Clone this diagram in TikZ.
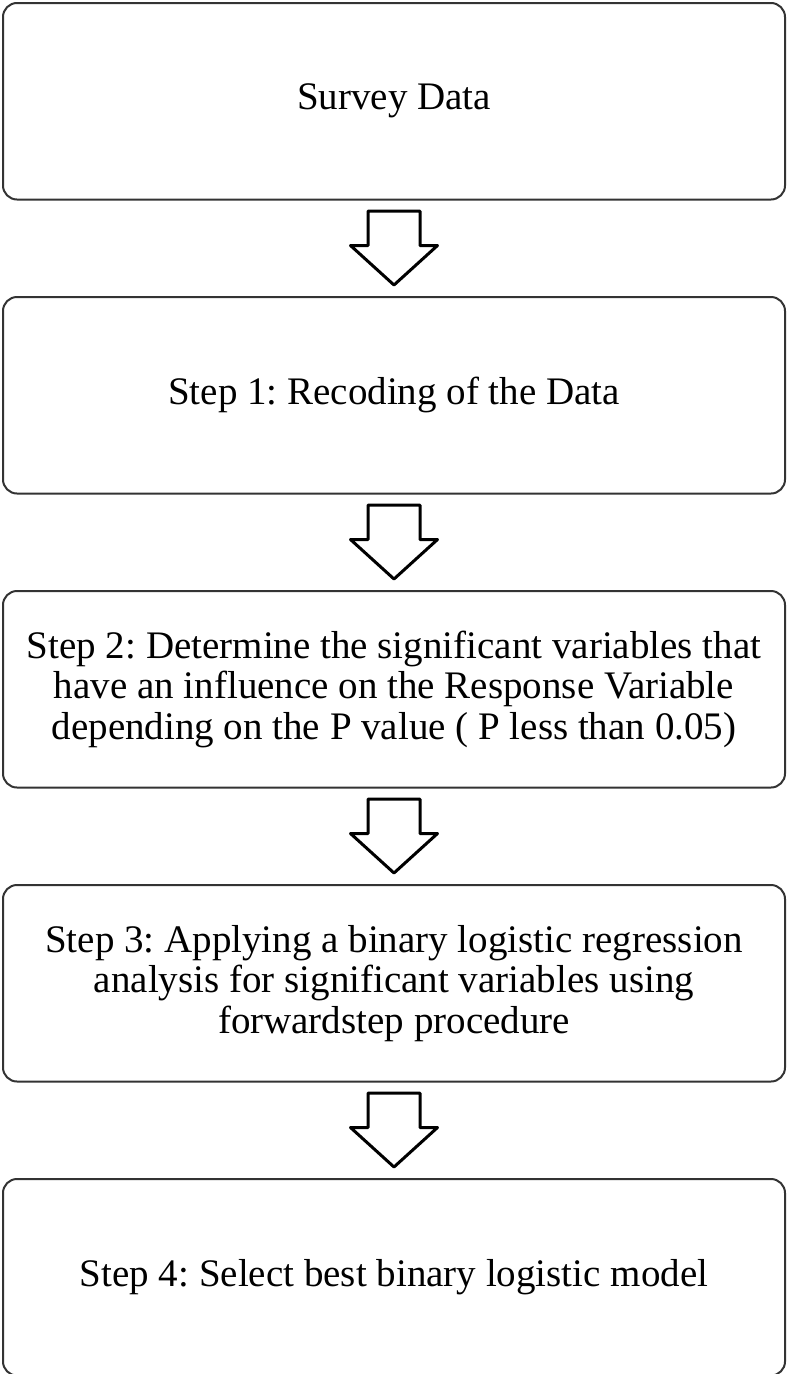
\documentclass[tikz,border=0pt]{standalone}
\usepackage{fontspec}
\setmainfont{Liberation Serif}
\usetikzlibrary{positioning,calc}

\begin{document}
\frenchspacing
\begin{tikzpicture}[
  x=1pt, y=-1pt,
  node distance=95.5pt,
  stepbox/.style={draw=black!80, line width=2pt, rounded corners=14pt,
    minimum width=782pt, minimum height=196.5pt, inner sep=0pt,
    align=center, font=\fontsize{39}{40.5}\selectfont},
  hollow/.style={draw=black, line width=3pt, line join=round, fill=white}
    ]
\useasboundingbox (0,0) rectangle (788,1374);

\node[stepbox] (s0) at (394,101.25) {Survey Data};
\node[stepbox,below=of s0] (s1) {Step 1: Recoding of the Data};
\node[stepbox,below=of s1] (s2) {Step 2: Determine the significant variables that\\
  have an influence on the Response Variable\\
  depending on the P value ( P less than 0.05)};
\node[stepbox,below=of s2] (s3) {Step 3: Applying a binary logistic regression\\
  analysis for significant variables using\\
  forwardstep procedure};
\node[stepbox,below=of s3] (s4) {Step 4: Select best binary logistic model};

% hollow block arrows between the steps
\foreach \a/\b in {s0/s1,s1/s2,s2/s3,s3/s4}
  \draw[hollow] ($(\a.south)+(-26,10.5)$) -- ($(\a.south)+(26,10.5)$)
    -- ($(\a.south)+(26,45)$) -- ($(\a.south)+(43.5,45)$)
    -- ($(\b.north)+(0,-11)$)
    -- ($(\a.south)+(-43.5,45)$) -- ($(\a.south)+(-26,45)$) -- cycle;

\end{tikzpicture}
\end{document}
